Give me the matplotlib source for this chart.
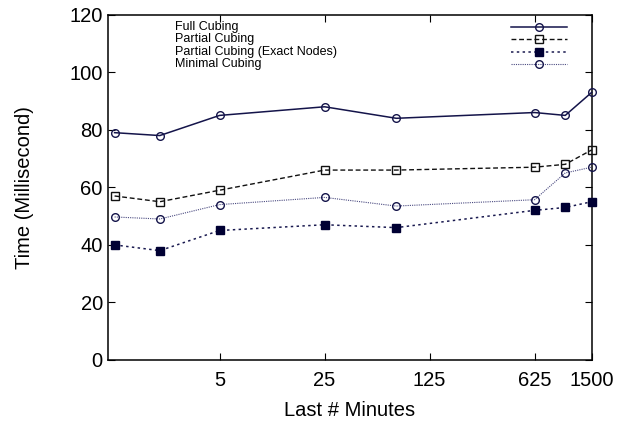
import matplotlib
matplotlib.use("Agg")
import matplotlib.pyplot as plt
from matplotlib.lines import Line2D

plt.rcParams['font.family'] = ['Liberation Sans', 'DejaVu Sans']

# data
minutes = [1, 2, 5, 25, 75, 625, 1000, 1500]
full_cubing = [79, 78, 85, 88, 84, 86, 85, 93]
partial_cubing = [57, 55, 59, 66, 66, 67, 68, 73]
exact_nodes = [40, 38, 45, 47, 46, 52, 53, 55]
minimal_cubing = [49.7, 49, 54, 56.5, 53.5, 55.7, 65, 67]

xticks = [5, 25, 125, 625, 1500]
yticks = [0, 20, 40, 60, 80, 100, 120]

series = [
    ("Full Cubing", full_cubing,
     dict(color="#14144a", ls="-", lw=1.1, marker="o", mfc="none", mec="#14144a", ms=5.5, mew=1.0)),
    ("Partial Cubing", partial_cubing,
     dict(color="#111111", ls=(0, (3.5, 2)), lw=1.0, marker="s", mfc="none", mec="#111111", ms=5.5, mew=1.0)),
    ("Partial Cubing (Exact Nodes)", exact_nodes,
     dict(color="#1a1a50", ls=(0, (1.6, 2.2)), lw=1.1, marker="s", mfc="#000033", mec="#000033", ms=6, mew=1.0)),
    ("Minimal Cubing", minimal_cubing,
     dict(color="#4a4a80", ls=(0, (1, 1)), lw=0.8, marker="o", mfc="none", mec="#14144a", ms=5.5, mew=1.0)),
]

fig = plt.figure(figsize=(6.31, 4.25), dpi=100)
ax = fig.add_axes([0.1707, 0.153, 0.767, 0.8124])

for name, vals, st in series:
    ax.plot(minutes, vals, clip_on=False, zorder=3, **st)

ax.set_xscale("log")
ax.set_xlim(0.9, 1500)
ax.set_ylim(0, 120)
ax.set_xticks(xticks)
ax.set_xticklabels([str(t) for t in xticks])
ax.minorticks_off()
ax.set_yticks(yticks)
ax.tick_params(direction="in", length=5, width=0.8, top=True, right=True,
               labelsize=14.5, colors="black")
ax.tick_params(axis="x", pad=8)
ax.tick_params(axis="y", pad=3.5)

for sp in ax.spines.values():
    sp.set_linewidth(1.1)

ax.set_xlabel("Last # Minutes", fontsize=14.5)
ax.set_ylabel("Time (Millisecond)", fontsize=14.5)
ax.xaxis.set_label_coords(0.499, -0.119)
ax.yaxis.set_label_coords(-0.153, 0.5)

# gnuplot-style key: text on the left, samples on the right
row_y = [0.965, 0.929, 0.893, 0.857]
for (name, vals, st), yy in zip(series, row_y):
    ax.text(0.138, yy, name, transform=ax.transAxes, fontsize=9, va="center", ha="left")
    ax.add_line(Line2D([0.833, 0.948], [yy, yy], transform=ax.transAxes,
                       **{k: v for k, v in st.items() if k != "marker"}))
    ax.add_line(Line2D([0.891], [yy], transform=ax.transAxes, ls="none",
                       marker=st["marker"], mfc=st["mfc"], mec=st["mec"], ms=st["ms"], mew=st["mew"]))

fig.savefig("out.png", dpi=100)
